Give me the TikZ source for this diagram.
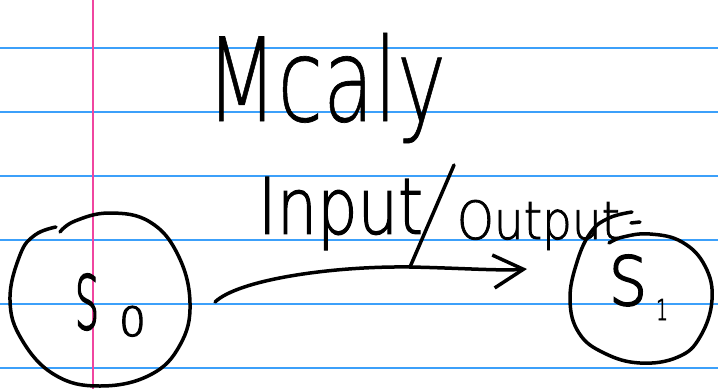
\documentclass[tikz,border=0pt]{standalone}
\usepackage{fontspec}
\usepackage{graphicx}
\usetikzlibrary{arrows.meta}
\newcommand\pickfont[5]{\IfFontExistsTF{#3}{\newfontfamily#1[#2]{#3}}{\IfFontExistsTF{#4}{\newfontfamily#1[#2]{#4}}{\newfontfamily#1[#2]{#5}}}}
\pickfont\handthin{FakeBold=0.6}{FiraSans-Thin.otf}{DejaVuSans-ExtraLight.ttf}{DejaVu Sans}
\pickfont\handlight{FakeBold=1.6}{FiraSans-ExtraLight.otf}{DejaVuSans-ExtraLight.ttf}{DejaVu Sans}
\pickfont\handstate{FakeBold=3}{FiraSans-ExtraLight.otf}{DejaVuSans-ExtraLight.ttf}{DejaVu Sans}
\definecolor{rulecol}{RGB}{60,160,250}
\definecolor{margincol}{RGB}{240,70,160}
\begin{document}
\begin{tikzpicture}[x=1pt,y=-1pt,
  ink/.style={black,line width=3.5pt,line cap=round,line join=round},
  paperline/.style={rulecol,line width=2pt},
  marginline/.style={margincol,line width=2pt},
  hand/.style={inner sep=0pt,outer sep=0pt,text=black},
  statelabel/.style={inner sep=0pt,outer sep=0pt,text=black,anchor=base west},
]
\useasboundingbox (0,0) rectangle (718,389);
\fill[white] (0,0) rectangle (718,389);
% ruled paper
\foreach \yy in {48,112,176,240,304,368} \draw[paperline] (0,\yy) -- (718,\yy);
\draw[marginline] (93,0) -- (93,389);
% texts
\node[hand] (title) at (326,88) {\resizebox*{240pt}{110pt}{\handthin Mcaly}};
\node[hand] (inlabel) at (340.5,213.5) {\resizebox*{165pt}{73pt}{\handlight Input}};
\node[hand] (outlabel) at (538.5,225) {\resizebox*{163pt}{50pt}{\handlight Output}};
% states
\node[statelabel] (s0) at (75,329) {\handstate\fontsize{60pt}{60pt}\selectfont\resizebox{24pt}{55pt}{S}\hspace{20pt}\raisebox{-7pt}{\resizebox{27pt}{30pt}{0}}};
\node[statelabel] (s1) at (609,305) {\handstate\fontsize{60pt}{60pt}\selectfont\resizebox{38pt}{50pt}{S}\hspace{9pt}\raisebox{-15pt}{\resizebox{12pt}{21pt}{1}}};
% hand-drawn rings
\draw[ink] plot[smooth, tension=0.7] coordinates {(60,232) (75,221) (110,213) (150,222) (178,255) (190,303) (180,345) (150,375) (100,386) (55,375) (22,340) (10,300) (20,255) (35,235) (56,227)};
\draw[ink] plot[smooth, tension=0.7] coordinates {(609,243) (623,237) (650,234) (682,242) (705,266) (712,300) (700,337) (678,357) (640,363) (604,353) (579,333) (570,300) (577,262) (591,232) (609,218) (632,212)};
\draw[ink] (631,223) -- (640,222);
% transition
\coordinate (a0) at (215,302);
\coordinate (a1) at (527,269);
\coordinate (sl) at (410,267);
\coordinate (st) at (454,165);
\draw[ink,-{Straight Barb[length=30pt,width=33pt]}] (a0) .. controls (238,280) and (330,266) .. (sl) .. controls (460,268) and (500,271) .. (a1);
\draw[ink] (sl) -- (st);
\end{tikzpicture}
\end{document}
